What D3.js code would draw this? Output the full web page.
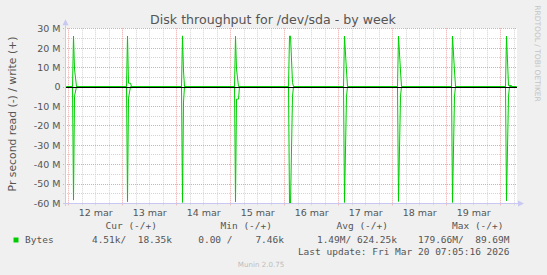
<!DOCTYPE html>
<html>
<head>
<meta charset="utf-8">
<script src="https://cdn.jsdelivr.net/npm/d3@7"></script>
<style>
  html, body { margin: 0; padding: 0; background: #f0f0f0; }
  svg { display: block; }
  text { white-space: pre; }
</style>
</head>
<body>
<svg id="chart"></svg>
<script>
// week view of /dev/sda, values in MB/s (read stored positive, drawn below zero)
const title = 'Disk throughput for /dev/sda - by week';
const yTitle = 'Pr second read (-) / write (+)';
const dayLabels = ['12 mar', '13 mar', '14 mar', '15 mar', '16 mar', '17 mar', '18 mar', '19 mar'];
const yTickValues = [30, 20, 10, 0, -10, -20, -30, -40, -50, -60];
const yTickLabels = ['30 M', '20 M', '10 M', '0', '-10 M', '-20 M', '-30 M', '-40 M', '-50 M', '-60 M'];
const timeRange = ['2026-03-11 23:01', '2026-03-20 07:28'];

const writeSeries = [
    ['2026-03-11 23:00', 0.02], ['2026-03-12 01:45', 0.02], ['2026-03-12 02:15', 26.0], ['2026-03-12 02:45', 9.0], ['2026-03-12 03:15', 0.02],
    ['2026-03-13 01:45', 0.02], ['2026-03-13 02:15', 26.0], ['2026-03-13 02:45', 1.7], ['2026-03-13 03:15', 1.7], ['2026-03-13 03:45', 0.02],
    ['2026-03-14 02:00', 0.02], ['2026-03-14 02:30', 26.1], ['2026-03-14 03:00', 8.0], ['2026-03-14 03:30', 0.02],
    ['2026-03-15 01:45', 0.02], ['2026-03-15 02:15', 25.9], ['2026-03-15 02:45', 9.0], ['2026-03-15 03:15', 0.02],
    ['2026-03-16 01:45', 0.02], ['2026-03-16 02:15', 26.0], ['2026-03-16 02:45', 26.0], ['2026-03-16 03:15', 2.0], ['2026-03-16 03:45', 0.02],
    ['2026-03-17 02:15', 0.02], ['2026-03-17 02:45', 26.0], ['2026-03-17 03:15', 8.0], ['2026-03-17 03:45', 0.02],
    ['2026-03-18 02:15', 0.02], ['2026-03-18 02:45', 26.0], ['2026-03-18 03:15', 8.0], ['2026-03-18 03:45', 0.02],
    ['2026-03-19 02:15', 0.02], ['2026-03-19 02:45', 26.0], ['2026-03-19 03:15', 8.0], ['2026-03-19 03:45', 0.02],
    ['2026-03-20 02:15', 0.02], ['2026-03-20 02:45', 26.0], ['2026-03-20 03:15', 0.5], ['2026-03-20 04:45', 0.5], ['2026-03-20 05:15', 0.02],
    ['2026-03-20 07:00', 0.02]
];

const readSeries = [
    ['2026-03-11 23:00', 0.005], ['2026-03-12 01:45', 0.005], ['2026-03-12 02:15', 58.5], ['2026-03-12 02:45', 5.0], ['2026-03-12 03:15', 0.005],
    ['2026-03-13 01:45', 0.005], ['2026-03-13 02:15', 59.3], ['2026-03-13 02:45', 6.0], ['2026-03-13 03:15', 0.005],
    ['2026-03-14 02:00', 0.005], ['2026-03-14 02:30', 59.7], ['2026-03-14 03:00', 8.0], ['2026-03-14 03:30', 0.005],
    ['2026-03-14 04:00', 0.005], ['2026-03-14 04:30', 0.4], ['2026-03-14 05:00', 0.005], ['2026-03-14 05:30', 0.005], ['2026-03-14 06:00', 0.4], ['2026-03-14 06:30', 0.005],
    ['2026-03-15 01:45', 0.005], ['2026-03-15 02:15', 59.5], ['2026-03-15 02:45', 6.5], ['2026-03-15 03:15', 6.5], ['2026-03-15 03:45', 0.005],
    ['2026-03-15 05:15', 0.005], ['2026-03-15 05:45', 0.4], ['2026-03-15 06:15', 0.005],
    ['2026-03-16 01:45', 0.005], ['2026-03-16 02:15', 60.5], ['2026-03-16 02:45', 60.5], ['2026-03-16 03:15', 5.0], ['2026-03-16 03:45', 0.005],
    ['2026-03-17 02:15', 0.005], ['2026-03-17 02:45', 59.7], ['2026-03-17 03:15', 5.0], ['2026-03-17 03:45', 0.005],
    ['2026-03-18 02:15', 0.005], ['2026-03-18 02:45', 59.2], ['2026-03-18 03:15', 5.0], ['2026-03-18 03:45', 0.005],
    ['2026-03-19 02:15', 0.005], ['2026-03-19 02:45', 59.7], ['2026-03-19 03:15', 5.0], ['2026-03-19 03:45', 0.005],
    ['2026-03-19 06:00', 0.005], ['2026-03-19 06:30', 0.4], ['2026-03-19 07:00', 0.005],
    ['2026-03-20 02:15', 0.005], ['2026-03-20 02:45', 58.9], ['2026-03-20 03:15', 5.0], ['2026-03-20 03:45', 0.005],
    ['2026-03-20 07:00', 0.005]
];

const legendHeaders = ['Cur (-/+)', 'Min (-/+)', 'Avg (-/+)', 'Max (-/+)'];
const legendValues = ['4.51k/  18.35k', '0.00 /    7.46k', '1.49M/ 624.25k', '179.66M/  89.69M'];
const lastUpdate = 'Last update: Fri Mar 20 07:05:16 2026';

const width = 547;
const height = 275;
const plot = { left: 66, right: 517, top: 28.3, bottom: 203 };
const green = '#00cc00';
const axisColor = '#c8c8f2';
const majorGrid = '#eea4a4';
const minorGrid = '#d4d4d4';

const parse = d3.timeParse('%Y-%m-%d %H:%M');
const writeData = writeSeries.map(d => ({ t: parse(d[0]), v: d[1] }));
const readData = readSeries.map(d => ({ t: parse(d[0]), v: -d[1] }));
const t0 = parse(timeRange[0]);
const t1 = parse(timeRange[1]);

const svg = d3.select('#chart')
    .attr('width', width)
    .attr('height', height)
    .style('font-family', '"DejaVu Sans", sans-serif');

svg.append('rect').attr('width', width).attr('height', height).attr('fill', '#f0f0f0');

const x = d3.scaleTime().domain([t0, t1]).range([plot.left, plot.right]);
const y = d3.scaleLinear().domain([-60, 30]).range([plot.bottom, plot.top]);
const snap = v => Math.round(v) + 0.5;

svg.append('rect')
    .attr('x', plot.left).attr('y', plot.top)
    .attr('width', plot.right - plot.left).attr('height', plot.bottom - plot.top)
    .attr('fill', '#ffffff');

// grid
const days = d3.timeDay.range(t0, t1);
const sixHours = d3.timeHour.every(6).range(t0, t1).filter(d => d.getHours() !== 0);
const grid = svg.append('g').attr('stroke-dasharray', '1,1').attr('fill', 'none');

grid.selectAll('.vminor').data(sixHours).join('line')
    .attr('x1', d => snap(x(d))).attr('x2', d => snap(x(d)))
    .attr('y1', plot.top).attr('y2', plot.bottom + 3)
    .attr('stroke', minorGrid);
grid.selectAll('.hminor').data(d3.range(-55, 30, 10)).join('line')
    .attr('x1', plot.left - 3).attr('x2', plot.right)
    .attr('y1', d => snap(y(d))).attr('y2', d => snap(y(d)))
    .attr('stroke', minorGrid);
grid.selectAll('.vmajor').data(days).join('line')
    .attr('x1', d => snap(x(d))).attr('x2', d => snap(x(d)))
    .attr('y1', plot.top).attr('y2', plot.bottom + 3)
    .attr('stroke', majorGrid);
grid.selectAll('.hmajor').data(yTickValues).join('line')
    .attr('x1', plot.left - 3).attr('x2', plot.right)
    .attr('y1', d => snap(y(d))).attr('y2', d => snap(y(d)))
    .attr('stroke', majorGrid);

// axes lines with arrows
svg.append('line')
    .attr('x1', plot.left - 3).attr('x2', plot.right + 2)
    .attr('y1', snap(plot.bottom)).attr('y2', snap(plot.bottom))
    .attr('stroke', axisColor);
svg.append('path')
    .attr('d', `M${plot.right + 1},${snap(plot.bottom) - 3}L${plot.right + 7},${snap(plot.bottom)}L${plot.right + 1},${snap(plot.bottom) + 3}Z`)
    .attr('fill', axisColor);
svg.append('line')
    .attr('x1', snap(plot.left - 1)).attr('x2', snap(plot.left - 1))
    .attr('y1', plot.bottom + 3).attr('y2', plot.top - 3)
    .attr('stroke', axisColor);
svg.append('path')
    .attr('d', `M${snap(plot.left - 1) - 3},${plot.top - 3}L${snap(plot.left - 1)},${plot.top - 9}L${snap(plot.left - 1) + 3},${plot.top - 3}Z`)
    .attr('fill', axisColor);

// data lines
svg.append('clipPath').attr('id', 'clip')
    .append('rect')
    .attr('x', plot.left).attr('y', plot.top - 1)
    .attr('width', plot.right - plot.left).attr('height', plot.bottom - plot.top + 1);

const line = d3.line()
    .x(d => snap(x(d.t)))
    .y(d => y(d.v));

const lines = svg.append('g').attr('clip-path', 'url(#clip)');
lines.append('path').datum(readData)
    .attr('d', line).attr('fill', 'none').attr('stroke', green).attr('stroke-width', 1);
lines.append('path').datum(writeData)
    .attr('d', line).attr('fill', 'none').attr('stroke', green).attr('stroke-width', 1);

// zero rule
svg.append('line')
    .attr('x1', plot.left).attr('x2', plot.right)
    .attr('y1', snap(y(0))).attr('y2', snap(y(0)))
    .attr('stroke', '#000000');

// x labels at noon
const noons = days.map(d => d3.timeHour.offset(d, 12));
const xAxis = d3.axisBottom(x)
    .tickValues(noons)
    .tickSize(0)
    .tickPadding(0)
    .tickFormat((d, i) => dayLabels[i]);
svg.append('g')
    .attr('transform', `translate(0,${plot.bottom + 13})`)
    .call(xAxis)
    .call(g => g.select('.domain').remove())
    .call(g => g.selectAll('text')
        .attr('dy', 0).attr('y', 0)
        .attr('fill', '#555')
        .style('font-size', '9.5px')
        .style('font-family', '"DejaVu Sans", sans-serif'));

const yAxis = d3.axisLeft(y)
    .tickValues(yTickValues)
    .tickSize(0)
    .tickPadding(0)
    .tickFormat((d, i) => yTickLabels[i]);
svg.append('g')
    .attr('transform', `translate(${plot.left - 5.5},0)`)
    .call(yAxis)
    .call(g => g.select('.domain').remove())
    .call(g => g.selectAll('text')
        .attr('dy', '0.35em').attr('x', 0)
        .attr('fill', '#555')
        .style('font-size', '9.5px')
        .style('font-family', '"DejaVu Sans", sans-serif'));

// titles
svg.append('text')
    .attr('x', 273).attr('y', 23.5)
    .attr('text-anchor', 'middle')
    .attr('fill', '#555')
    .style('font-size', '12.6px')
    .text(title);

svg.append('text')
    .attr('transform', 'translate(16,114) rotate(-90)')
    .attr('text-anchor', 'middle')
    .attr('fill', '#555')
    .style('font-size', '10.8px')
    .text(yTitle);

svg.append('text')
    .attr('transform', 'translate(535,53.5) rotate(90)')
    .attr('text-anchor', 'middle')
    .attr('fill', '#c4c4c4')
    .style('font-size', '7.5px')
    .text('RRDTOOL / TOBI OETIKER');

// legend
const mono = '"DejaVu Sans Mono", monospace';
const colEnds = [172, 284, 397, 509.5];
const headEnds = [157, 272, 388, 503.5];

svg.append('g').selectAll('text').data(legendHeaders).join('text')
    .attr('x', (d, i) => headEnds[i]).attr('y', 229)
    .attr('text-anchor', 'end')
    .attr('fill', '#555')
    .style('font-family', mono).style('font-size', '9.5px')
    .text(d => d);

svg.append('rect')
    .attr('x', 13.5).attr('y', 237.5).attr('width', 5).attr('height', 5)
    .attr('fill', green);
svg.append('text')
    .attr('x', 25).attr('y', 243)
    .attr('fill', '#555')
    .style('font-family', mono).style('font-size', '9.5px')
    .text('Bytes');

svg.append('g').selectAll('text').data(legendValues).join('text')
    .attr('x', (d, i) => colEnds[i]).attr('y', 243)
    .attr('text-anchor', 'end')
    .attr('fill', '#555')
    .style('font-family', mono).style('font-size', '9.5px')
    .text(d => d);

svg.append('text')
    .attr('x', colEnds[3]).attr('y', 255)
    .attr('text-anchor', 'end')
    .attr('fill', '#555')
    .style('font-family', mono).style('font-size', '9.5px')
    .text(lastUpdate);

svg.append('text')
    .attr('x', 261).attr('y', 266.5)
    .attr('text-anchor', 'middle')
    .attr('fill', '#bdbdbd')
    .style('font-size', '7.1px')
    .text('Munin 2.0.75');
</script>
</body>
</html>
